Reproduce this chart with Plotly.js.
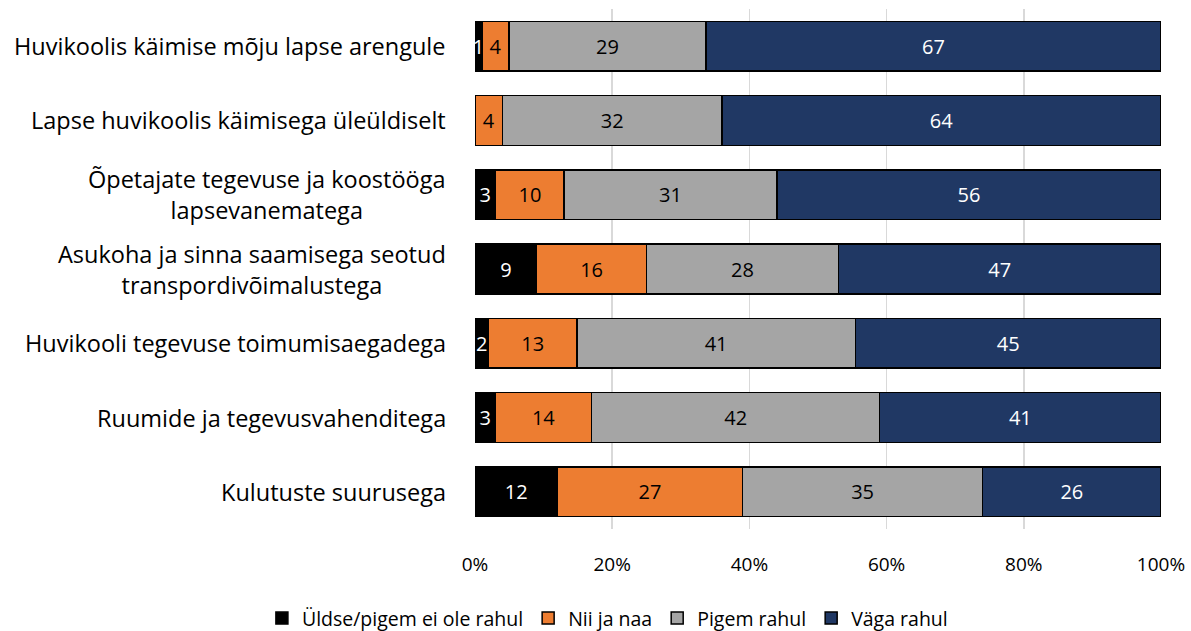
<!DOCTYPE html>
<html>
<head>
<meta charset="utf-8">
<script src="https://cdn.plot.ly/plotly-3.0.1.min.js"></script>
<style>html,body{margin:0;padding:0;background:#fff;}#chart{width:1191px;height:631px;}</style>
</head>
<body>
<div id="chart"></div>
<script>
const categories = [
  "Huvikoolis käimise mõju lapse arengule",
  "Lapse huvikoolis käimisega üleüldiselt",
  "Õpetajate tegevuse ja koostööga<br>lapsevanematega",
  "Asukoha ja sinna saamisega seotud<br>transpordivõimalustega",
  "Huvikooli tegevuse toimumisaegadega",
  "Ruumide ja tegevusvahenditega",
  "Kulutuste suurusega"
];
const seriesNames = ["Üldse/pigem ei ole rahul", "Nii ja naa", "Pigem rahul", "Väga rahul"];
const notSatisfied = [1, 0, 3, 9, 2, 3, 12];
const soSo = [4, 4, 10, 16, 13, 14, 27];
const ratherSatisfied = [29, 32, 31, 28, 41, 42, 35];
const verySatisfied = [67, 64, 56, 47, 45, 41, 26];
const tickVals = [0, 20, 40, 60, 80, 100];
const tickText = ["0%", "20%", "40%", "60%", "80%", "100%"];

const colors = ["#000000", "#ED7D31", "#A5A5A5", "#203864"];
const textColors = ["#ffffff", "#000000", "#000000", "#ffffff"];
const allSeries = [notSatisfied, soSo, ratherSatisfied, verySatisfied];
const FONT = "'Open Sans', sans-serif";

const traces = allSeries.map((vals, i) => ({
  type: "bar",
  orientation: "h",
  name: seriesNames[i],
  y: categories,
  x: vals,
  text: vals.map(v => v > 0 ? String(v) : ""),
  textposition: "inside",
  insidetextanchor: "middle",
  constraintext: "none",
  textangle: 0,
  textfont: {family: FONT, size: 20, color: textColors[i]},
  marker: {color: colors[i], line: {color: "#000000", width: 1.5}},
  hoverinfo: "name+x"
}));

const annotations = categories.map(c => ({
  xref: "paper",
  yref: "y",
  x: -0.04,
  y: c,
  xanchor: "right",
  yanchor: "middle",
  align: "center",
  showarrow: false,
  text: c,
  font: {family: FONT, size: 23.5, color: "#000000"}
}));

const layout = {
  width: 1191,
  height: 631,
  barmode: "stack",
  barnorm: "percent",
  bargap: 0.33,
  margin: {l: 475, r: 30, t: 9, b: 102},
  paper_bgcolor: "#ffffff",
  plot_bgcolor: "#ffffff",
  font: {family: FONT, size: 19, color: "#000000"},
  xaxis: {
    range: [0, 100],
    tickvals: tickVals,
    ticktext: tickText,
    showgrid: true,
    gridcolor: "#d9d9d9",
    gridwidth: 1.5,
    zeroline: false,
    showline: false,
    ticks: "",
    tickfont: {family: FONT, size: 19, color: "#000000"},
    ticklabelstandoff: 22
  },
  yaxis: {
    autorange: "reversed",
    showgrid: false,
    showline: false,
    zeroline: false,
    ticks: "",
    showticklabels: false
  },
  annotations: annotations,
  showlegend: true,
  legend: {
    orientation: "h",
    xref: "container",
    yref: "container",
    x: 0.51,
    xanchor: "center",
    y: 0.02,
    yanchor: "middle",
    font: {family: FONT, size: 19.5, color: "#000000"},
    itemwidth: 30,
    tracegroupgap: 0,
    traceorder: "normal"
  }
};

Plotly.newPlot("chart", traces, layout, {displayModeBar: false, staticPlot: true});
</script>
</body>
</html>
